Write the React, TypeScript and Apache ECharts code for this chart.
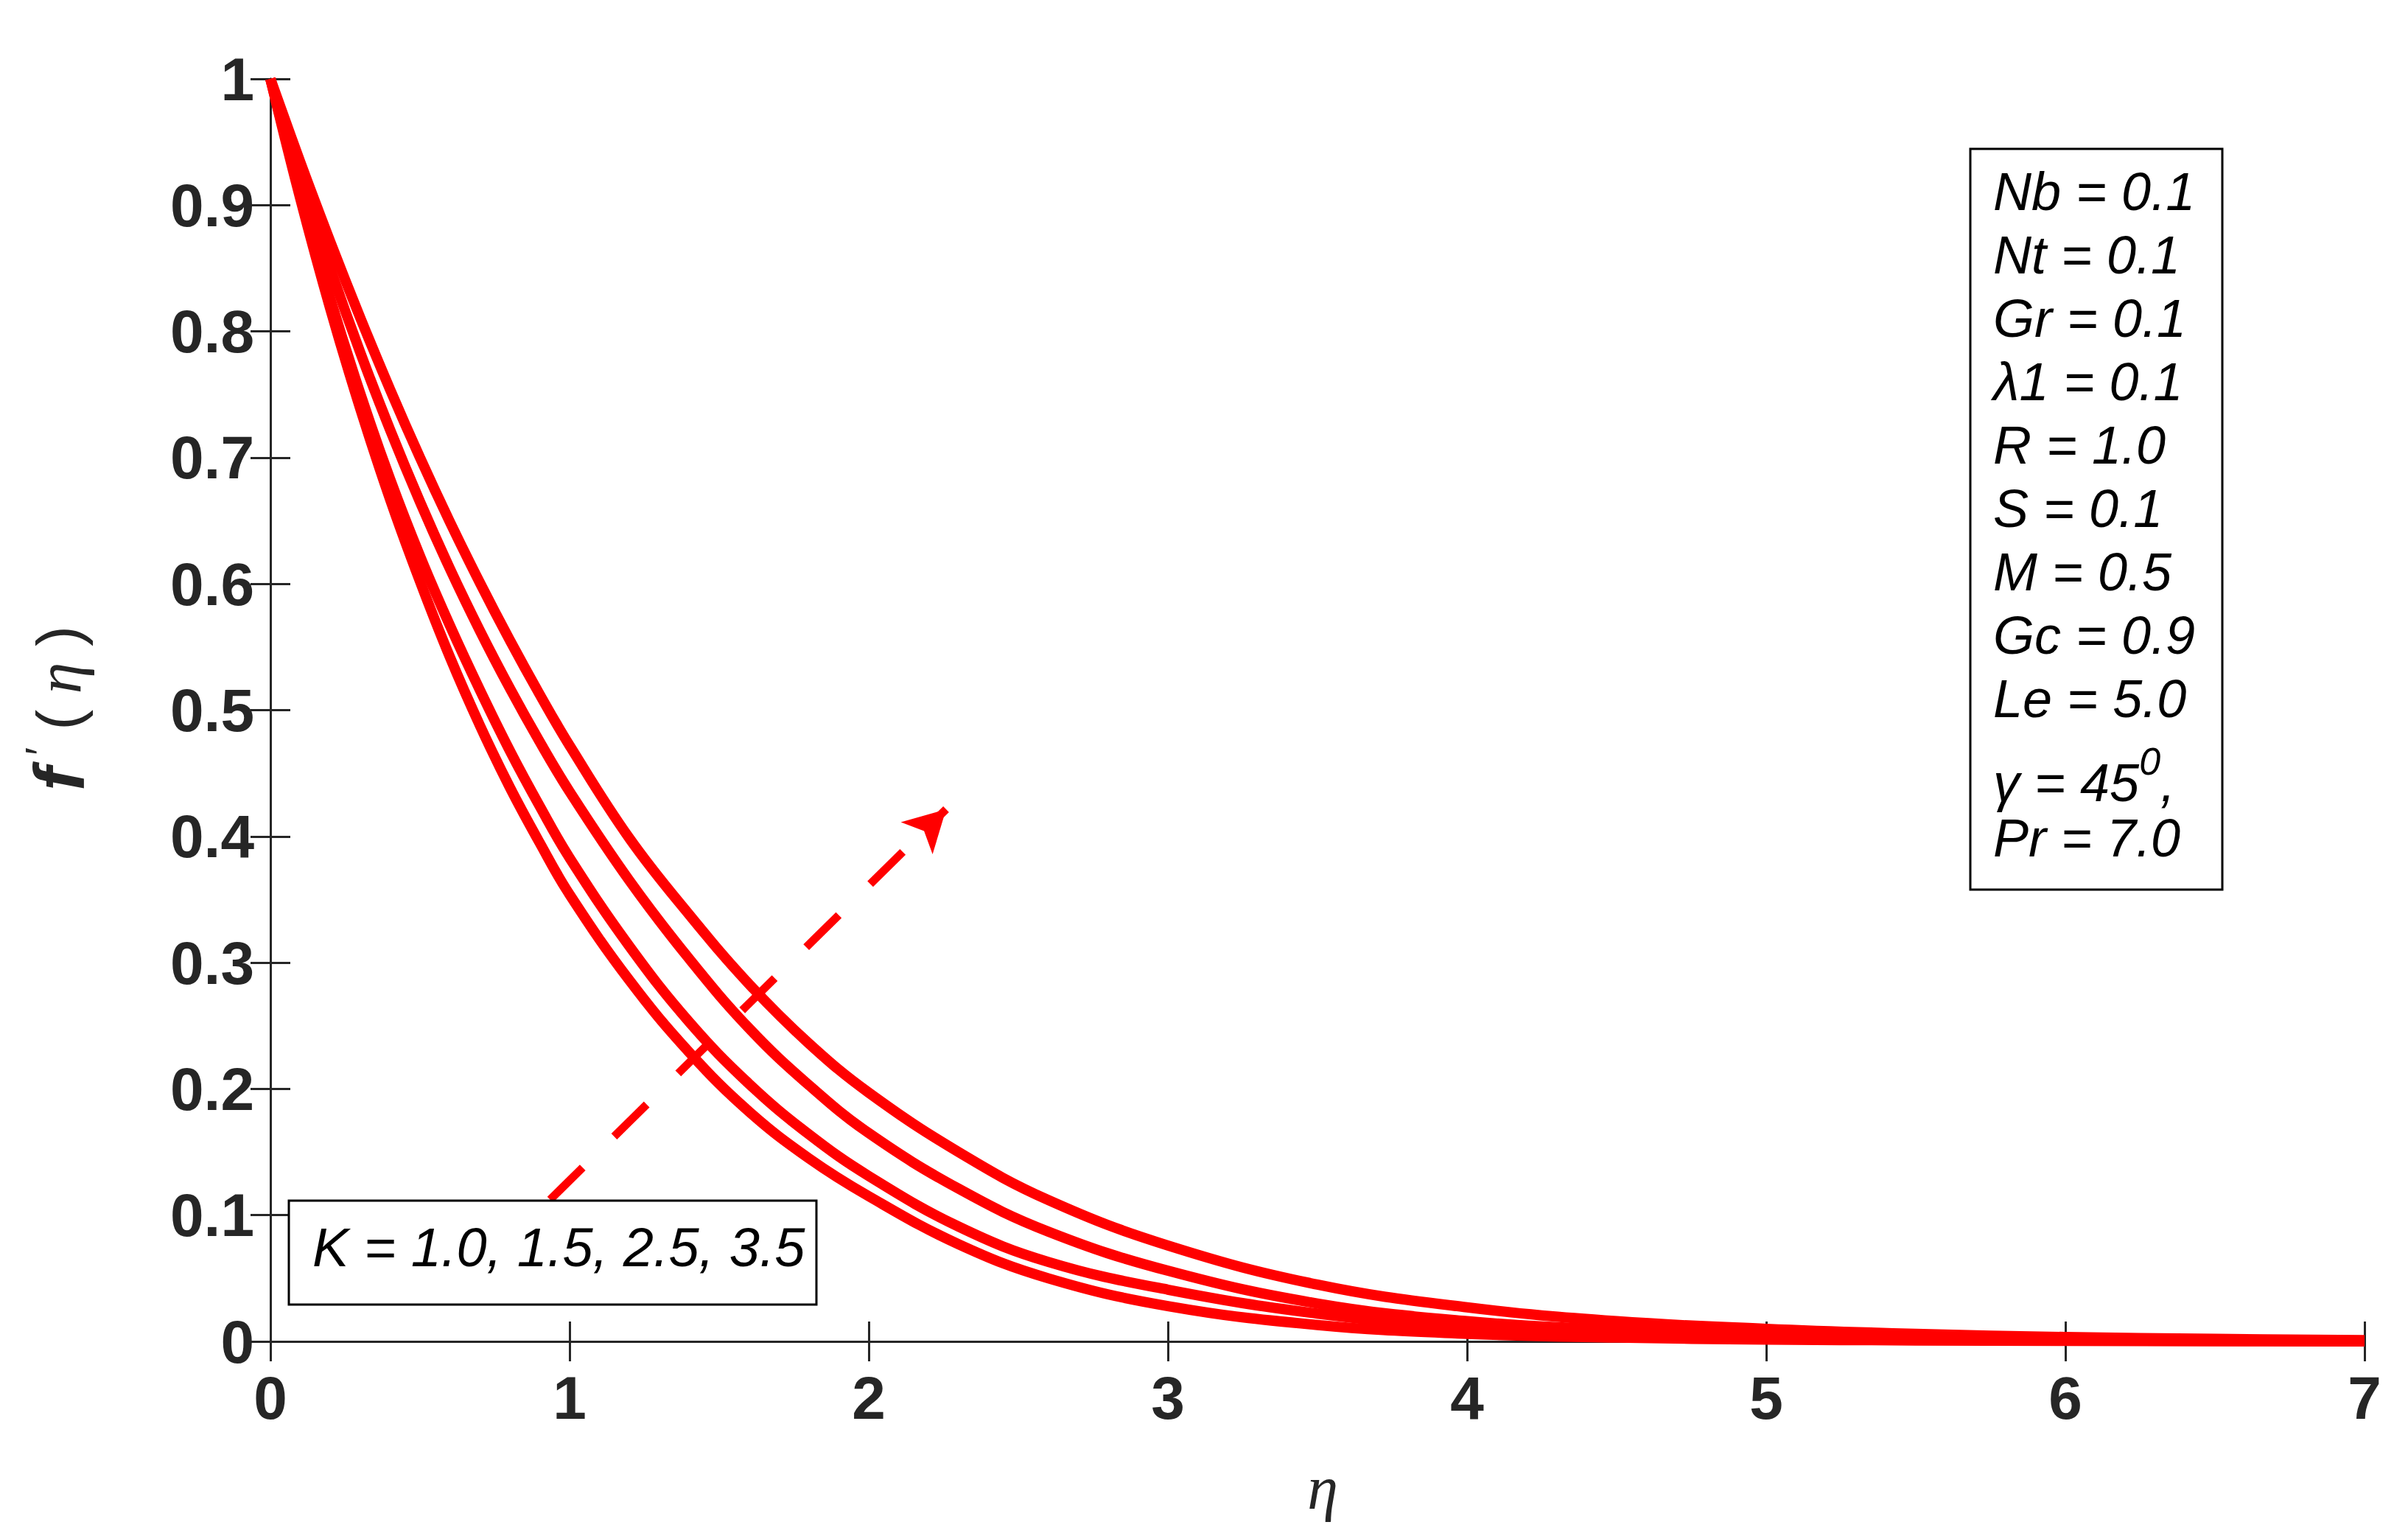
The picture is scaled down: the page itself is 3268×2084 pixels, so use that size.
import React, { useEffect, useRef } from "react";
import * as echarts from "echarts";

// ---- data ----
const ETA = [0, 0.1, 0.2, 0.3, 0.4, 0.5, 0.6, 0.7, 0.8, 0.9, 1.0, 1.2, 1.4, 1.6, 1.8, 2.0, 2.3, 2.6, 3.0, 3.5, 4.0, 4.5, 5.0, 5.5, 6.0, 6.5, 7.0];
const F_K1_0 = [1, 0.905, 0.818, 0.739, 0.667, 0.602, 0.542, 0.488, 0.439, 0.395, 0.354, 0.286, 0.229, 0.182, 0.145, 0.115, 0.077, 0.05, 0.028, 0.013, 0.006, 0.003, 0.0015, 0.0008, 0.0004, 0.0002, 0];
const F_K1_5 = [1, 0.909, 0.826, 0.751, 0.683, 0.622, 0.567, 0.516, 0.468, 0.424, 0.383, 0.313, 0.253, 0.204, 0.164, 0.131, 0.091, 0.063, 0.041, 0.022, 0.011, 0.006, 0.003, 0.0015, 0.0008, 0.0004, 0.0002];
const F_K2_5 = [1, 0.922, 0.85, 0.7835, 0.722, 0.665, 0.612, 0.563, 0.5175, 0.475, 0.4355, 0.365, 0.303, 0.248, 0.203, 0.165, 0.121, 0.087, 0.056, 0.03, 0.016, 0.009, 0.005, 0.003, 0.0015, 0.0008, 0.0004];
const F_K3_5 = [1, 0.934, 0.871, 0.811, 0.754, 0.7, 0.649, 0.601, 0.5555, 0.5125, 0.472, 0.3985, 0.338, 0.283, 0.236, 0.197, 0.15, 0.112, 0.076, 0.045, 0.027, 0.016, 0.01, 0.006, 0.0035, 0.002, 0.001];
const CURVES = [F_K1_0, F_K1_5, F_K2_5, F_K3_5];
const CURVE_NAMES = ["K = 1.0", "K = 1.5", "K = 2.5", "K = 3.5"];

const X_MIN = 0, X_MAX = 7, X_STEP = 1;
const Y_MIN = 0, Y_MAX = 1, Y_STEP = 0.1;

// arrow (data coordinates): increasing K
const ARROW_FROM = [0.935, 0.1123];
const ARROW_TO = [2.2586, 0.4215];

const K_TEXT = "K = 1.0, 1.5, 2.5, 3.5";
const PARAM_LINES = ["Nb = 0.1", "Nt = 0.1", "Gr = 0.1", "λ1 = 0.1", "R = 1.0", "S = 0.1", "M = 0.5", "Gc = 0.9", "Le = 5.0"];
const GAMMA_BASE = "γ = 45";
const GAMMA_SUP = "0";
const GAMMA_TAIL = ",";
const PR_LINE = "Pr = 7.0";

const AXIS_COLOR = "#262626";
const SANS = "Liberation Sans";
const SERIF = "Liberation Serif";

export default function App() {
  const ref = useRef<HTMLDivElement>(null);

  useEffect(() => {
    if (!ref.current) return;
    const chart = echarts.init(ref.current, undefined, { renderer: "svg" });

    const axisLine = { show: true, lineStyle: { color: AXIS_COLOR, width: 3 } };
    const axisTick = { show: true, inside: true, length: 27, lineStyle: { color: AXIS_COLOR, width: 3 } };
    const tickLabel = { color: AXIS_COLOR, fontSize: 82, fontWeight: "bold" as const, fontFamily: SANS };

    const series: any[] = CURVES.map((ys, i) => ({
      name: CURVE_NAMES[i],
      type: "line",
      data: ETA.map((x, j) => [x, ys[j]]),
      symbol: "none",
      showSymbol: false,
      smooth: 0.4,
      clip: false,
      lineStyle: { color: "#ff0000", width: 14, join: "round" },
      z: 3,
    }));

    series.push({
      name: "arrow",
      type: "line",
      data: [],
      symbol: "none",
      markLine: {
        silent: true,
        animation: false,
        symbol: ["none", "arrow"],
        symbolSize: [46, 56],
        label: { show: false },
        lineStyle: { color: "#ff0000", width: 11, type: [62, 60], cap: "butt" },
        data: [[{ coord: ARROW_FROM }, { coord: ARROW_TO }]],
      },
      z: 4,
    });

    const paramText = (txt: string, y: number) => ({
      type: "text",
      x: 2705,
      y,
      z: 20,
      style: {
        text: txt,
        fontSize: 72,
        fontStyle: "italic",
        fontFamily: SANS,
        fill: "#000",
        align: "left",
        verticalAlign: "middle",
      },
    });

    const graphic: any[] = [
      {
        type: "rect",
        z: 10,
        shape: { x: 2674, y: 202, width: 342, height: 1005 },
        style: { fill: "#fff", stroke: "#000", lineWidth: 3 },
      },
      ...PARAM_LINES.map((t, i) => paramText(t, 260 + i * 86)),
      {
        type: "text",
        x: 2705,
        y: 1062,
        z: 20,
        style: {
          text: `{a|${GAMMA_BASE}}{s|${GAMMA_SUP}}{a|${GAMMA_TAIL}}`,
          align: "left",
          verticalAlign: "middle",
          rich: {
            a: { fontSize: 72, fontStyle: "italic", fontFamily: SANS, fill: "#000", lineHeight: 110 },
            s: { fontSize: 52, fontStyle: "italic", fontFamily: SANS, fill: "#000", lineHeight: 30, verticalAlign: "top" },
          },
        },
      },
      paramText(PR_LINE, 1137),
      {
        type: "rect",
        z: 10,
        shape: { x: 392, y: 1629, width: 716, height: 141 },
        style: { fill: "#fff", stroke: "#000", lineWidth: 3 },
      },
      {
        type: "text",
        x: 424,
        y: 1692,
        z: 20,
        style: {
          text: K_TEXT,
          fontSize: 74,
          fontStyle: "italic",
          fontFamily: SANS,
          fill: "#000",
          align: "left",
          verticalAlign: "middle",
        },
      },
      {
        type: "text",
        x: 1795,
        y: 2018,
        z: 20,
        style: {
          text: "η",
          fontSize: 84,
          fontStyle: "italic",
          fontFamily: SERIF,
          fill: AXIS_COLOR,
          align: "center",
          verticalAlign: "middle",
        },
      },
      {
        type: "text",
        x: 80,
        y: 961,
        rotation: Math.PI / 2,
        z: 20,
        style: {
          text: "{f|f}{p| ′}{b| (}{e| η }{b|)}",
          align: "center",
          verticalAlign: "middle",
          rich: {
            f: { fontSize: 96, fontStyle: "italic", fontWeight: "bold", fontFamily: SANS, fill: AXIS_COLOR, lineHeight: 110 },
            p: { fontSize: 58, fontFamily: SANS, fill: AXIS_COLOR, lineHeight: 40, verticalAlign: "top" },
            b: { fontSize: 84, fontFamily: SANS, fill: AXIS_COLOR, lineHeight: 110 },
            e: { fontSize: 86, fontStyle: "italic", fontFamily: SERIF, fill: AXIS_COLOR, lineHeight: 110 },
          },
        },
      },
    ];

    chart.setOption({
      animation: false,
      backgroundColor: "#ffffff",
      grid: { left: 367, right: 59, top: 107, bottom: 264, containLabel: false },
      xAxis: [
        {
          type: "value",
          position: "bottom",
          min: X_MIN,
          max: X_MAX,
          interval: X_STEP,
          axisLine,
          axisTick,
          axisLabel: { ...tickLabel, margin: 35 },
          splitLine: { show: false },
        },
        {
          type: "value",
          position: "top",
          min: X_MIN,
          max: X_MAX,
          interval: X_STEP,
          axisLine,
          axisTick,
          axisLabel: { show: false },
          splitLine: { show: false },
        },
      ],
      yAxis: [
        {
          type: "value",
          position: "left",
          min: Y_MIN,
          max: Y_MAX,
          interval: Y_STEP,
          axisLine,
          axisTick,
          axisLabel: { ...tickLabel, margin: 22 },
          splitLine: { show: false },
        },
        {
          type: "value",
          position: "right",
          min: Y_MIN,
          max: Y_MAX,
          interval: Y_STEP,
          axisLine,
          axisTick,
          axisLabel: { show: false },
          splitLine: { show: false },
        },
      ],
      series,
      graphic,
    });

    return () => {
      chart.dispose();
    };
  }, []);

  return (
    <div
      ref={ref}
      style={{ position: "fixed", left: 0, top: 0, width: "3268px", height: "2084px", background: "#fff" }}
    />
  );
}
